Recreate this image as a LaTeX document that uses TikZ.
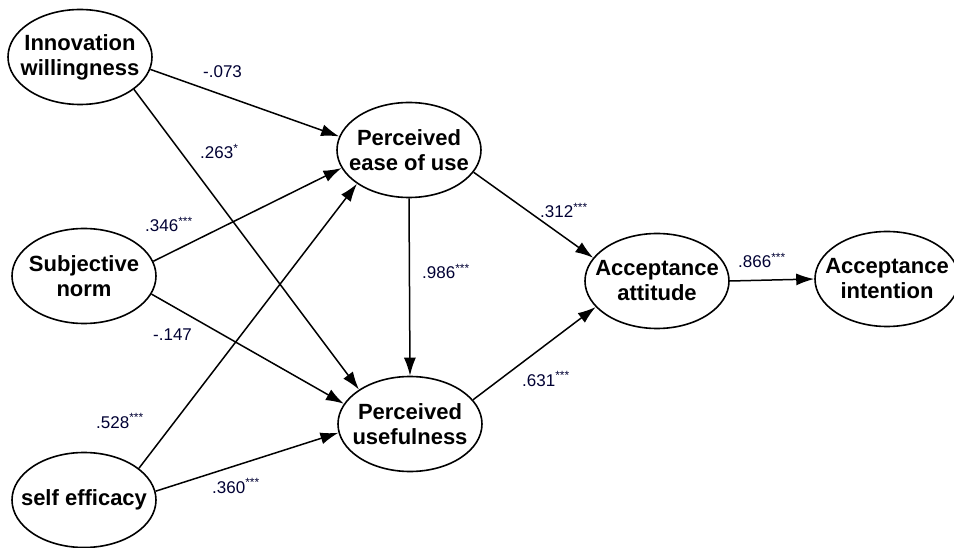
\documentclass[tikz,border=0pt]{standalone}
\usepackage{fontspec}
\setmainfont{Liberation Sans}
\usetikzlibrary{shapes.geometric,arrows.meta}
\begin{document}
\begin{tikzpicture}[x=1pt,y=-1pt,
  construct/.style={draw, ellipse, line width=1.6pt, minimum width=144pt, minimum height=95pt, inner sep=-14pt, align=center, font=\fontsize{22}{25}\selectfont\bfseries},
  pathline/.style={line width=1.5pt, -{Latex[length=18pt,width=12pt]}},
  coef/.style={font=\fontsize{17}{17}\selectfont, text=black!80!blue, inner sep=0pt, anchor=base west}]
\useasboundingbox (0,0) rectangle (954,548);
\node[construct] (iw) at (80,57) {Innovation\\willingness};
\node[construct] (sn) at (84,276) {Subjective\\norm};
\node[construct] (se) at (84,500) {self efficacy};
\node[construct] (peou) at (409,150) {Perceived\\ease of use};
\node[construct] (pu) at (410,424) {Perceived\\usefulness};
\node[construct] (aa) at (657,281) {Acceptance\\attitude};
\node[construct] (ai) at (887,279) {Acceptance\\intention};

\draw[pathline] (iw.-10.5) -- (peou.169.6);
\draw[pathline] (iw.-31.7) -- (pu.146.8);
\draw[pathline] (sn.12.3) -- (peou.-165.8);
\draw[pathline] (sn.-15.4) -- (pu.163.7);
\draw[pathline] (se.30.2) -- (peou.-147);
\draw[pathline] (se.7.2) -- (pu.187.5);
\draw[pathline] (peou.south) -- (pu.north);
\draw[pathline] (peou.-19) -- (aa.160);
\draw[pathline] (pu.21.2) -- (aa.203);
\draw[pathline] (aa.east) -- (ai.west);

\node[coef] (c1) at (203,78) {-.073};
\node[coef] (c2) at (200,159) {.263\textsuperscript{*}};
\node[coef] (c3) at (145,232) {.346\textsuperscript{***}};
\node[coef] (c4) at (422,279) {.986\textsuperscript{***}};
\node[coef] (c5) at (153,341) {-.147};
\node[coef] (c6) at (96,428) {.528\textsuperscript{***}};
\node[coef] (c7) at (212,493) {.360\textsuperscript{***}};
\node[coef] (c8) at (540,218) {.312\textsuperscript{***}};
\node[coef] (c9) at (522,386) {.631\textsuperscript{***}};
\node[coef] (c10) at (738,268) {.866\textsuperscript{***}};
\end{tikzpicture}
\end{document}
